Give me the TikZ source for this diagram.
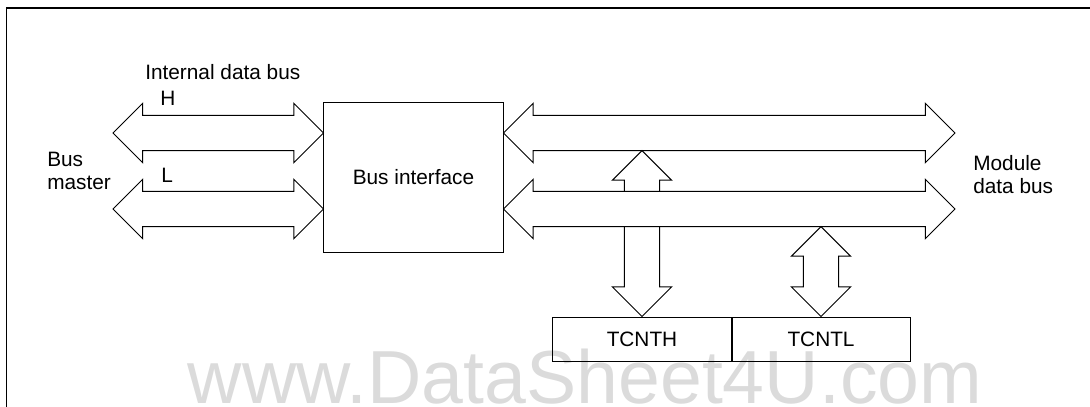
\documentclass[tikz,border=0pt]{standalone}
\usepackage{fontspec}
\setmainfont{Liberation Sans}
\usetikzlibrary{calc,positioning}

\tikzset{
  txt/.style={inner sep=0pt, font=\fontsize{14.8}{16.3}\selectfont},
  block/.style={txt, draw, line width=0.7pt},
  reg/.style={block, minimum width=4.45cm, minimum height=1.1cm},
  busline/.style={line width=0.7pt, line join=miter},
}

% head length, head half width, shaft half width
\def\hdlen{0.74cm}
\def\hdwid{0.74cm}
\def\shwid{0.44cm}

% wide arrow with a head at both ends
\newcommand{\busarrow}[2]{%
  \draw[busline] (#1) -- ($(#1)!\hdlen!(#2)!\hdwid!90:(#2)$) -- ($(#1)!\hdlen!(#2)!\shwid!90:(#2)$)
    -- ($(#2)!\hdlen!(#1)!\shwid!-90:(#1)$) -- ($(#2)!\hdlen!(#1)!\hdwid!-90:(#1)$) -- (#2)
    -- ($(#2)!\hdlen!(#1)!\hdwid!90:(#1)$) -- ($(#2)!\hdlen!(#1)!\shwid!90:(#1)$)
    -- ($(#1)!\hdlen!(#2)!\shwid!-90:(#2)$) -- ($(#1)!\hdlen!(#2)!\hdwid!-90:(#2)$) -- cycle;}

% wide arrow with one head, open tail
\newcommand{\feedarrow}[2]{%
  \draw[busline] ($(#1)!\shwid!-90:(#2)$) -- ($(#2)!\hdlen!(#1)!\shwid!90:(#1)$)
    -- ($(#2)!\hdlen!(#1)!\hdwid!90:(#1)$) -- (#2) -- ($(#2)!\hdlen!(#1)!\hdwid!-90:(#1)$)
    -- ($(#2)!\hdlen!(#1)!\shwid!-90:(#1)$) -- ($(#1)!\shwid!90:(#2)$);}

\begin{document}
\begin{tikzpicture}[x=0.025cm, y=-0.025cm]

  \useasboundingbox (0,0) rectangle (1090,407);

  % Watermark
  \node[inner sep=0pt, anchor=base, text=black!14, font=\fontsize{53.5}{60}\selectfont] (wm) at (585,403.5) {www.DataSheet4U.com};

  % Frame
  \draw[line width=1pt] (6.3,407) -- (6.3,8.2) -- (1090,8.2);

  % Blocks
  \node[block, minimum width=4.475cm, minimum height=3.725cm] (bif) at (413.5,177.5) {Bus interface};
  \node[reg] (tcnth) at (642,339) {TCNTH};
  \node[reg, right=0pt of tcnth] (tcntl) {TCNTL};

  % Labels
  \node[txt, anchor=west] (idb) at (145,72) {Internal data bus};
  \node[txt, anchor=west] (hlab) at (160,98) {H};
  \node[txt, anchor=west] (llab) at (161,175) {L};
  \node[txt, anchor=west, align=left] (bm) at (47,171) {Bus\\master};
  \node[txt, anchor=west, align=left] (mdb) at (973,175) {Module\\data bus};

  % Internal and module data buses
  \coordinate (mH) at (113,133);
  \coordinate (mL) at (113,209);
  \coordinate (dH) at (955,133);
  \coordinate (dL) at (955,209);
  \foreach \b in {H,L} {
    \coordinate (bw\b) at (bif.west |- m\b);
    \coordinate (be\b) at (bif.east |- m\b);
    \busarrow{m\b}{bw\b}
    \busarrow{be\b}{d\b}
  }

  % Register paths
  \coordinate (hiB) at ($(tcnth.north |- dH)+(0,17.6)$);
  \coordinate (loT) at ($(tcnth.north |- dL)+(0,-17.6)$);
  \coordinate (loB) at ($(tcnth.north |- dL)+(0,17.6)$);
  \coordinate (loB2) at ($(tcntl.north |- dL)+(0,17.6)$);
  \feedarrow{loT}{hiB}
  \feedarrow{loB}{tcnth.north}
  \busarrow{loB2}{tcntl.north}

\end{tikzpicture}
\end{document}
